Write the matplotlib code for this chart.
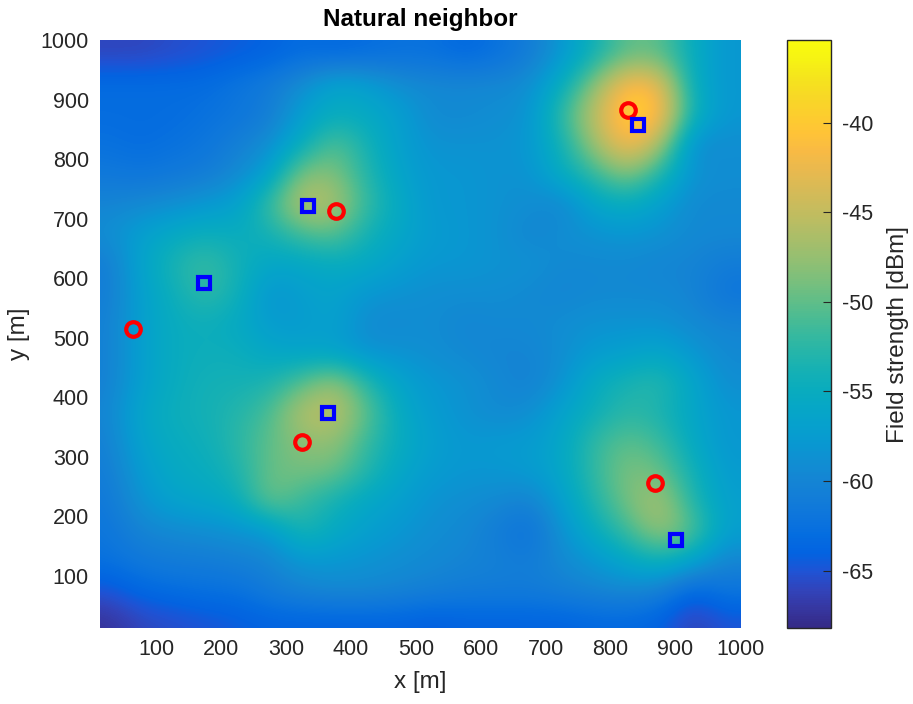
import numpy as np
import matplotlib
matplotlib.use("Agg")
import matplotlib.pyplot as plt
from matplotlib.colors import LinearSegmentedColormap

plt.rcParams['font.family'] = ['Liberation Sans', 'DejaVu Sans']
plt.rcParams['axes.unicode_minus'] = False

# ---------------------------------------------------------------------------
# Data: field strength [dBm] on a 50 m grid (cell centres 25 ... 975 m),
# rows listed from the top (y = 975) down to the bottom (y = 25)
# ---------------------------------------------------------------------------
grid_x = np.arange(25, 1000, 50)
grid_y = np.arange(975, 0, -50)

field = np.array([
    [-66, -66, -65.5, -65, -64.5, -64, -63, -63.5, -63, -62.5, -62.5, -63.5, -62.5, -61, -58, -54, -50, -50, -55, -58],
    [-63, -63, -63, -63, -62, -61, -59, -56, -57, -59, -59.5, -59.5, -59.5, -59, -55, -48, -40.5, -42, -55, -58],
    [-63, -63, -63, -62.5, -62, -61, -57, -55, -55.5, -57, -59.5, -59.5, -59, -58.5, -52, -45, -38.5, -40, -54, -58],
    [-62.5, -63, -62.5, -62, -60.5, -59, -55, -50, -54, -57, -58.5, -58.5, -58.5, -58, -54, -47, -41, -46, -59.5, -59],
    [-61.5, -62, -61.5, -61, -59.5, -57, -48, -48.5, -53, -56.5, -58, -58, -58.5, -58.5, -55, -52, -48, -53, -58.5, -59],
    [-60, -59.5, -59, -58, -57, -51.5, -45, -46, -52, -55.5, -58, -58, -58.5, -59, -60, -56, -55, -57, -59.5, -59.5],
    [-59, -57, -55.5, -54.5, -55, -54, -51, -50, -54, -56, -57.5, -58, -58.5, -60, -59, -58.5, -58, -58.5, -59.5, -59.5],
    [-61, -56.5, -53.5, -51.5, -54, -56, -56, -55, -55.5, -57, -58, -58, -58.5, -58.5, -59.5, -59.5, -59.5, -60, -60, -61],
    [-61, -57, -54.5, -52, -54, -58.5, -57, -56.5, -58, -58.5, -59, -59, -59, -59.5, -60, -59.5, -59.5, -59.5, -60, -62],
    [-60.5, -57, -55, -54.5, -55.5, -57.5, -57.5, -56.5, -59.5, -59.5, -59, -60, -59.5, -59.5, -59, -58.5, -58.5, -58.5, -59.5, -60],
    [-60.5, -57, -55, -54.5, -54.5, -56, -56.5, -57, -58.5, -58.5, -59, -59.5, -60, -60, -59, -57.5, -57, -56, -58, -59.5],
    [-60.5, -57, -55, -54, -54, -53.5, -50.5, -47, -53, -56.5, -58, -58.5, -59.5, -60.5, -58.5, -55, -53.5, -52.5, -56, -59],
    [-60, -56, -54.5, -54, -53, -51, -45.5, -45, -50, -55.5, -57.5, -58.5, -59.5, -59, -56.5, -54.5, -52.5, -53.5, -56, -58],
    [-60.5, -56.5, -55, -54.5, -52.5, -50, -48, -47.5, -52, -55, -57, -58, -57.5, -57.5, -56, -52, -50, -51.5, -55.5, -58],
    [-61, -57.5, -55.5, -55, -53.5, -49.5, -49, -49.5, -53, -56, -57.5, -58, -58, -57.5, -56, -52, -48.5, -49.5, -54, -57.5],
    [-61.5, -58.5, -56.5, -56, -55, -49, -52, -54, -56, -57, -58.5, -59, -59.5, -60.5, -57, -53, -49, -46, -53, -57],
    [-62, -60, -59.5, -59, -58.5, -58, -53, -55.5, -57, -58, -59, -59.5, -61, -62.5, -58.5, -55, -51.5, -47, -50, -57],
    [-62.5, -61.5, -61, -61, -60.5, -60, -58, -58, -58.5, -59, -59.5, -60, -60.5, -61, -59.5, -58, -56, -54, -56.5, -60],
    [-65, -63.5, -63, -62.5, -62.5, -61, -60, -59.5, -59.5, -60, -60.5, -61, -61, -61, -60.5, -60, -59.5, -60.5, -64, -62],
    [-67.5, -66, -65.5, -65, -64.5, -64, -64, -64, -64, -64, -64.5, -64, -64, -64, -64, -63.5, -63.5, -64, -66.5, -65],
])

# colour range of the field strength scale
c_min, c_max = -68.2, -35.4
cbar_ticks = [-65, -60, -55, -50, -45, -40]

# transmitters (red circles) and receivers (blue squares)
tx_x = [64, 324, 376, 826, 868]
tx_y = [514, 324, 712, 882, 256]
rx_x = [174, 333, 364, 842, 901]
rx_y = [592, 722, 373, 857, 160]

# parula-like colormap
parula_pts = [
    (0.2081, 0.1663, 0.5292), (0.2123, 0.2138, 0.6270), (0.1959, 0.2645, 0.7279),
    (0.1253, 0.3242, 0.8303), (0.0117, 0.3875, 0.8820), (0.0165, 0.4266, 0.8786),
    (0.0498, 0.4586, 0.8641), (0.0723, 0.4887, 0.8467), (0.0793, 0.5200, 0.8312),
    (0.0641, 0.5570, 0.8240), (0.0343, 0.5966, 0.8199), (0.0239, 0.6287, 0.8038),
    (0.0228, 0.6535, 0.7768), (0.0384, 0.6743, 0.7436), (0.0843, 0.6928, 0.7062),
    (0.1453, 0.7098, 0.6646), (0.2178, 0.7250, 0.6193), (0.3022, 0.7376, 0.5712),
    (0.3953, 0.7459, 0.5244), (0.4871, 0.7491, 0.4840), (0.5709, 0.7485, 0.4494),
    (0.6473, 0.7456, 0.4188), (0.7184, 0.7411, 0.3905), (0.7858, 0.7356, 0.3633),
    (0.8507, 0.7299, 0.3360), (0.9139, 0.7258, 0.3063), (0.9739, 0.7314, 0.2666),
    (0.9990, 0.7653, 0.2164), (0.9880, 0.8066, 0.1794), (0.9697, 0.8481, 0.1475),
    (0.9589, 0.8949, 0.1132), (0.9661, 0.9514, 0.0755), (0.9763, 0.9831, 0.0538),
]
parula = LinearSegmentedColormap.from_list('parula', parula_pts, N=256)

text_col = (0.15, 0.15, 0.15)

fig = plt.figure(figsize=(9.13, 7.04), dpi=100)
ax = fig.add_axes([0.1095, 0.108, 0.7015, 0.835])
cax = fig.add_axes([0.862, 0.108, 0.048, 0.835])

im = ax.imshow(field, cmap=parula, vmin=c_min, vmax=c_max,
               extent=[grid_x[0] - 25, grid_x[-1] + 25, grid_y[-1] - 25, grid_y[0] + 25],
               origin='upper', interpolation='bicubic', aspect='auto')

ax.plot(tx_x, tx_y, 'o', ms=10.5, mfc='none', mec=(1, 0, 0), mew=3)
ax.plot(rx_x, rx_y, 's', ms=9, mfc='none', mec=(0, 0, 1), mew=3)

ax.set_xlim(13, 1000)
ax.set_ylim(12, 1000)
ax.set_xticks(range(100, 1001, 100))
ax.set_yticks(range(100, 1001, 100))
ax.tick_params(length=0, labelsize=15.5, labelcolor=text_col, pad=8)
for s in ax.spines.values():
    s.set_visible(False)

ax.set_xlabel('x [m]', fontsize=17.5, color=text_col, labelpad=8)
ax.set_ylabel('y [m]', fontsize=17.5, color=text_col, labelpad=8)
ax.set_title('Natural neighbor', fontsize=17.5, fontweight='bold', color='black', pad=10)

cb = fig.colorbar(im, cax=cax, ticks=cbar_ticks)
cb.outline.set_edgecolor(text_col)
cb.outline.set_linewidth(1.0)
cax.tick_params(direction='in', length=6, width=0.8, color=text_col,
                labelsize=15.5, labelcolor=text_col, pad=8)
cb.set_label('Field strength [dBm]', fontsize=17.5, color=text_col, labelpad=10)

fig.savefig('out.png', dpi=100)
